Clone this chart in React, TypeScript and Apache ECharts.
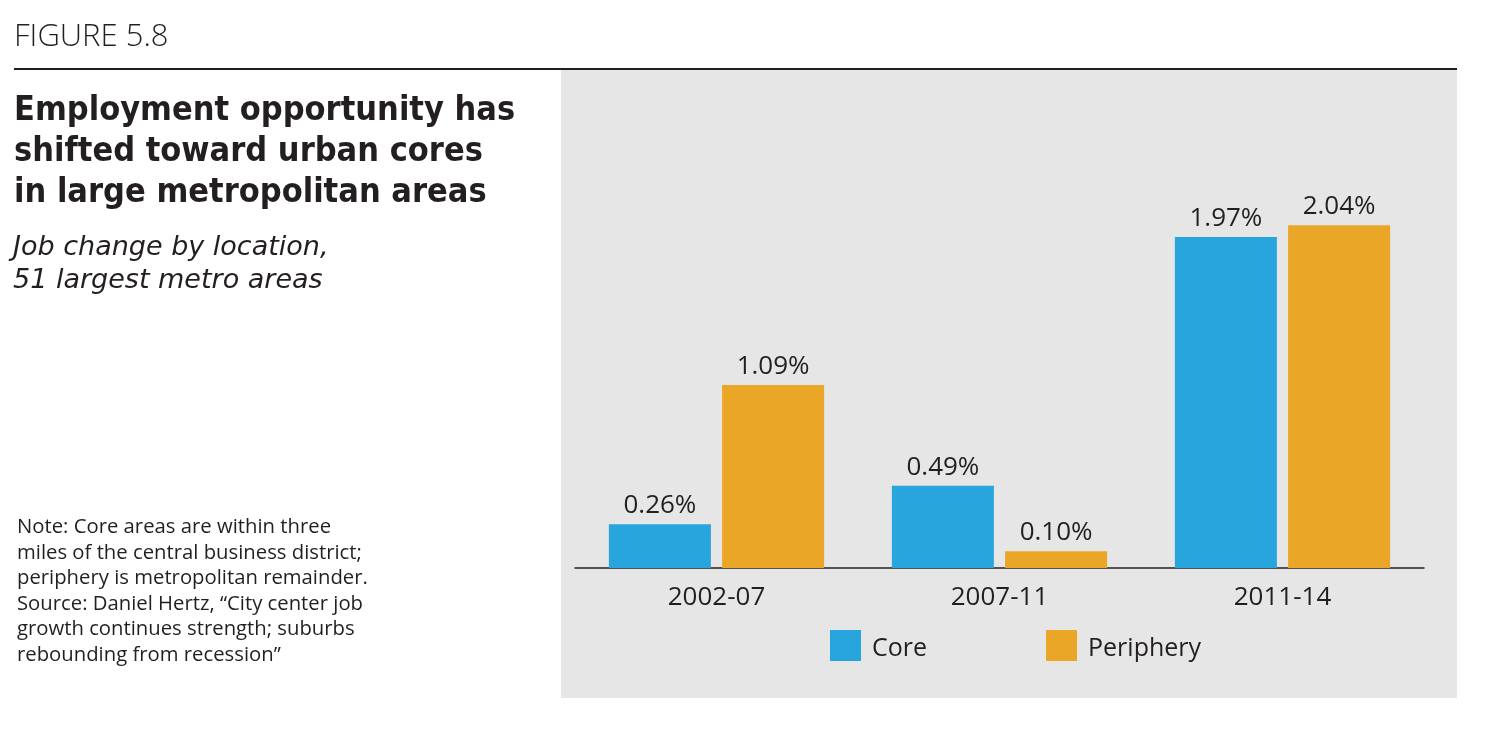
import React, { useEffect, useRef } from "react";
import * as echarts from "echarts";

const categories = ["2002-07", "2007-11", "2011-14"];
const coreValues = [0.26, 0.49, 1.97];
const peripheryValues = [1.09, 0.1, 2.04];
const seriesNames = ["Core", "Periphery"];
const figureLabel = "FIGURE 5.8";
const titleLines = [
  "Employment opportunity has",
  "shifted toward urban cores",
  "in large metropolitan areas",
];
const subtitleLines = ["Job change by location,", "51 largest metro areas"];
const noteLines = [
  "Note: Core areas are within three",
  "miles of the central business district;",
  "periphery is metropolitan remainder.",
  "Source: Daniel Hertz, \u201cCity center job",
  "growth continues strength; suburbs",
  "rebounding from recession\u201d",
];

const BLUE = "#29a5de";
const ORANGE = "#e9a627";
const INK = "#231f20";
const FONT = "'Open Sans', 'DejaVu Sans', sans-serif";
const HEAD_FONT = "'DejaVu Sans Condensed', Inter, sans-serif";
const SUB_FONT = "'DejaVu Sans', Inter, sans-serif";

export default function App() {
  const ref = useRef<HTMLDivElement>(null);
  useEffect(() => {
    if (!ref.current) return;
    const chart = echarts.init(ref.current, undefined, { renderer: "svg" });
    const graphics: any[] = [
      { type: "rect", z: -10, shape: { x: 561, y: 70, width: 896, height: 628 }, style: { fill: "#e6e6e6" } },
      { type: "line", shape: { x1: 14, y1: 69, x2: 1457, y2: 69 }, style: { stroke: INK, lineWidth: 2 } },
      { type: "text", x: 14, y: 34, style: { text: figureLabel, font: `300 31px ${FONT}`, fill: INK, textVerticalAlign: "middle" } },
      {
        type: "text", x: 14, y: 87.5,
        style: { text: titleLines.join("\n"), font: `bold 34px ${HEAD_FONT}`, lineHeight: 41, fill: INK, textVerticalAlign: "top" },
      },
      {
        type: "text", x: 13, y: 228.5,
        style: { text: subtitleLines.join("\n"), font: `italic 27px ${SUB_FONT}`, lineHeight: 33, fill: INK, textVerticalAlign: "top" },
      },
      {
        type: "text", x: 17, y: 512.2,
        style: { text: noteLines.join("\n"), font: `20.3px ${FONT}`, lineHeight: 25.6, fill: INK, textVerticalAlign: "top" },
      },
    ];

    const label = {
      show: true,
      position: "top",
      distance: 8,
      formatter: (p: any) => p.value.toFixed(2) + "%",
      fontSize: 26,
      color: INK,
      fontFamily: FONT,
    };

    chart.setOption({
      animation: false,
      textStyle: { fontFamily: FONT },
      graphic: graphics,
      grid: { left: 575, right: 76, top: 148, bottom: 182, containLabel: false },
      legend: {
        left: 830,
        top: 630,
        padding: 0,
        icon: "rect",
        itemWidth: 31,
        itemHeight: 31,
        itemGap: 119,
        data: seriesNames,
        textStyle: { fontSize: 25, color: INK, fontFamily: FONT, padding: [0, 0, 0, 6] },
      },
      xAxis: {
        type: "category",
        data: categories,
        axisLine: { lineStyle: { color: INK, width: 1.5 } },
        axisTick: { show: false },
        axisLabel: { fontSize: 26, color: INK, margin: 14, fontFamily: FONT },
      },
      yAxis: {
        type: "value",
        min: 0,
        max: 2.5,
        show: false,
        splitLine: { show: false },
      },
      series: [
        { name: seriesNames[0], type: "bar", data: coreValues, barWidth: 102, barGap: "11%", itemStyle: { color: BLUE }, label },
        { name: seriesNames[1], type: "bar", data: peripheryValues, barWidth: 102, itemStyle: { color: ORANGE }, label },
      ],
    });
    return () => chart.dispose();
  }, []);
  return <div ref={ref} style={{ position: "fixed", left: 0, top: 0, width: 1500, height: 750 }} />;
}
